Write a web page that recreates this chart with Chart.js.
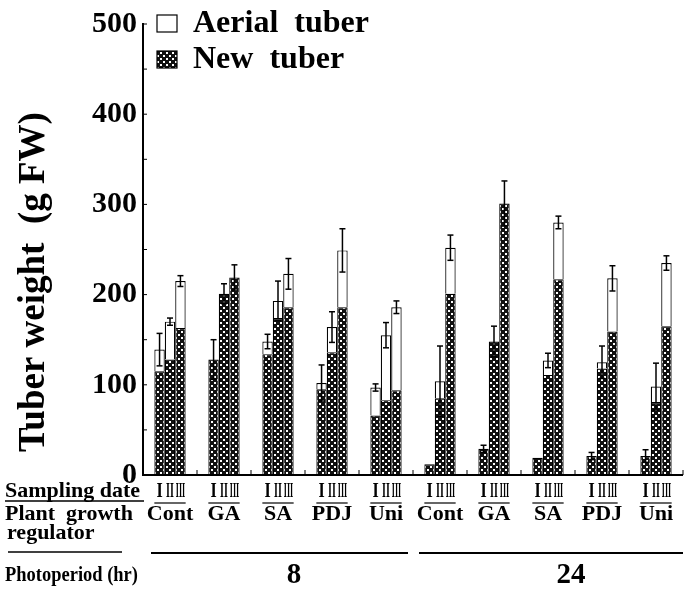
<!DOCTYPE html>
<html>
<head>
<meta charset="utf-8">
<script src="https://cdn.jsdelivr.net/npm/chart.js@4.4.0/dist/chart.umd.min.js"></script>
<style>
  body { margin: 0; background: #fff; }
  #wrap { width: 690px; height: 589px; }
</style>
</head>
<body>
<div id="wrap"><canvas id="tuberChart" width="690" height="589"></canvas></div>
<script>
// groups: plant growth regulator, 5 at 8 hr then 5 at 24 hr
const groups = ['Cont', 'GA', 'SA', 'PDJ', 'Uni', 'Cont', 'GA', 'SA', 'PDJ', 'Uni'];
const dates = ['I', 'II', 'III'];

// new tuber weight (g FW), one array per sampling date
const newI   = [115, 128, 134, 95, 66, 12, 29, 19, 21, 21];
const newII  = [128, 201, 174, 136, 83, 85, 148, 111, 118, 81];
const newIII = [163, 219, 186, 186, 94, 201, 301, 217, 159, 165];

// aerial tuber weight, stacked on the new tuber
const aerI   = [24, 0, 14, 7, 31, 0, 0, 0, 0, 0];
const aerII  = [42, 0, 19, 28, 72, 19, 0, 16, 7, 17];
const aerIII = [52, 0, 37, 63, 92, 51, 0, 63, 59, 70];

// error bars on the total
const errI   = [18, 22, 8, 20, 4, 0, 4, 0, 4, 7];
const errII  = [4, 11, 22, 17, 14, 39, 17, 8, 18, 26];
const errIII = [6, 14, 17, 24, 7, 14, 25, 7, 14, 8];

const yTickValues = [0, 50, 100, 150, 200, 250, 300, 350, 400, 450, 500];
const yTickLabels = ['0', '', '100', '', '200', '', '300', '', '400', '', '500'];

const photoperiods = ['8', '24'];

const SERIF = '"Liberation Serif", "DejaVu Serif", serif';

function dotPattern() {
  const c = document.createElement('canvas');
  c.width = 6; c.height = 6;
  const g = c.getContext('2d');
  g.fillStyle = '#111';
  g.fillRect(0, 0, 6, 6);
  g.fillStyle = '#fff';
  g.fillRect(1, 1, 2, 2);
  g.fillRect(4, 4, 2, 2);
  return g.createPattern(c, 'repeat');
}
const pattern = dotPattern();

const newSets = [newI, newII, newIII];
const aerSets = [aerI, aerII, aerIII];
const errSets = [errI, errII, errIII];

const datasets = [];
dates.forEach((d, k) => {
  datasets.push({
    label: 'New tuber', stack: d, data: newSets[k],
    backgroundColor: pattern, borderColor: '#000', borderWidth: 1.2,
    categoryPercentage: 0.58, barPercentage: 1.0
  });
  datasets.push({
    label: 'Aerial tuber', stack: d, data: aerSets[k],
    backgroundColor: '#fff', borderColor: '#000', borderWidth: 1.2,
    categoryPercentage: 0.58, barPercentage: 1.0
  });
});

function font(size) { return 'bold ' + size + 'px ' + SERIF; }

function line(ctx, x1, y1, x2, y2, w) {
  ctx.lineWidth = w;
  ctx.beginPath();
  ctx.moveTo(x1, y1);
  ctx.lineTo(x2, y2);
  ctx.stroke();
}

// text squeezed sideways, the scan uses a narrow face
function narrowText(ctx, text, x, y, sx) {
  ctx.save();
  ctx.translate(x, y);
  ctx.scale(sx, 1);
  ctx.fillText(text, 0, 0);
  ctx.restore();
}

// squeeze per numeral so that each one sits inside its bar
const numeralScale = { 'I': 0.8, 'II': 0.5, 'III': 0.4 };

// draws axes extras, error bars, legend and the table under the bars
const decorations = {
  id: 'decorations',
  afterDraw(chart) {
    const ctx = chart.ctx;
    const area = chart.chartArea;
    const xs = chart.scales.x;
    const ys = chart.scales.y;
    ctx.save();
    ctx.strokeStyle = '#000';
    ctx.fillStyle = '#000';

    // y minor ticks pointing inward
    yTickValues.forEach(v => {
      const y = ys.getPixelForValue(v);
      line(ctx, area.left, y, area.left + 4, y, 1);
    });

    // baseline and group separators
    line(ctx, area.left - 1, area.bottom, area.right, area.bottom, 2);
    for (let j = 0; j < groups.length; j++) {
      const xr = xs.getPixelForValue(j) + (xs.getPixelForValue(1) - xs.getPixelForValue(0)) / 2;
      line(ctx, xr, area.bottom, xr, area.bottom - 5, 1);
    }

    // error bars
    dates.forEach((d, k) => {
      const meta = chart.getDatasetMeta(2 * k + 1);
      meta.data.forEach((el, j) => {
        const err = errSets[k][j];
        if (!err) return;
        const total = newSets[k][j] + aerSets[k][j];
        const yt = ys.getPixelForValue(total + err);
        const yb = ys.getPixelForValue(total - err);
        line(ctx, el.x, yt, el.x, yb, 1.5);
        line(ctx, el.x - 3, yt, el.x + 3, yt, 1.5);
        line(ctx, el.x - 3, yb, el.x + 3, yb, 1.5);
      });
    });

    // legend
    ctx.lineWidth = 1.2;
    ctx.fillStyle = '#fff';
    ctx.fillRect(157, 15, 20, 17);
    ctx.strokeRect(157, 15, 20, 17);
    ctx.fillStyle = pattern;
    ctx.fillRect(157, 51, 20, 17);
    ctx.strokeRect(157, 51, 20, 17);
    ctx.fillStyle = '#000';
    ctx.font = font(32);
    ctx.textAlign = 'left';
    ctx.textBaseline = 'alphabetic';
    ctx.fillText('Aerial  tuber', 193, 32);
    ctx.fillText('New  tuber', 193, 68);

    // y title
    ctx.save();
    ctx.translate(44, 282);
    ctx.rotate(-Math.PI / 2);
    ctx.textAlign = 'center';
    ctx.font = font(37);
    ctx.fillText('Tuber weight  (g FW)', 0, 0);
    ctx.restore();

    // table rows
    ctx.textAlign = 'left';
    ctx.font = font(22);
    ctx.fillText('Sampling date', 5, 497);
    line(ctx, 5, 501, 144, 501, 1.5);
    ctx.fillText('Plant  growth', 5, 520);
    ctx.fillText('regulator', 7, 539);
    line(ctx, 8, 552, 122, 552, 1.5);
    narrowText(ctx, 'Photoperiod (hr)', 5, 581, 0.84);

    // roman numerals under each bar, regulator names under each group
    ctx.textAlign = 'center';
    for (let j = 0; j < groups.length; j++) {
      let left = Infinity, right = -Infinity;
      dates.forEach((d, k) => {
        const el = chart.getDatasetMeta(2 * k).data[j];
        left = Math.min(left, el.x - el.width / 2);
        right = Math.max(right, el.x + el.width / 2);
        ctx.font = font(20);
        narrowText(ctx, d, el.x, 497, numeralScale[d]);
      });
      line(ctx, left, 503, right, 503, 1.2);
      ctx.font = font(22);
      ctx.fillText(groups[j], (left + right) / 2, 520);
    }

    // photoperiod lines and labels
    const x0 = xs.getPixelForValue(0), x4 = xs.getPixelForValue(4);
    const x5 = xs.getPixelForValue(5), x9 = xs.getPixelForValue(9);
    const half = (xs.getPixelForValue(1) - x0) / 2;
    line(ctx, x0 - half + 8, 553, x4 + half - 5, 553, 1.8);
    line(ctx, x5 - half + 6, 553, x9 + half, 553, 1.8);
    ctx.font = font(29);
    ctx.fillText(photoperiods[0], 294, 583);
    ctx.fillText(photoperiods[1], 571, 583);

    ctx.restore();
  }
};

new Chart(document.getElementById('tuberChart'), {
  type: 'bar',
  data: { labels: groups, datasets: datasets },
  options: {
    responsive: false,
    animation: false,
    layout: { padding: { top: 17, right: 7, bottom: 114, left: 0 } },
    plugins: { legend: { display: false }, tooltip: { enabled: false } },
    scales: {
      x: { display: false, stacked: true, offset: true },
      y: {
        stacked: true,
        min: 0,
        max: 500,
        afterFit: s => { s.width = 143; },
        afterBuildTicks: s => { s.ticks = yTickValues.map(v => ({ value: v })); },
        ticks: {
          callback: (v, i) => yTickLabels[i],
          font: { family: SERIF, weight: 'bold', size: 30 },
          color: '#000',
          padding: 6
        },
        grid: { display: false, drawTicks: false },
        border: { display: true, color: '#000', width: 2 }
      }
    }
  },
  plugins: [decorations]
});
</script>
</body>
</html>
